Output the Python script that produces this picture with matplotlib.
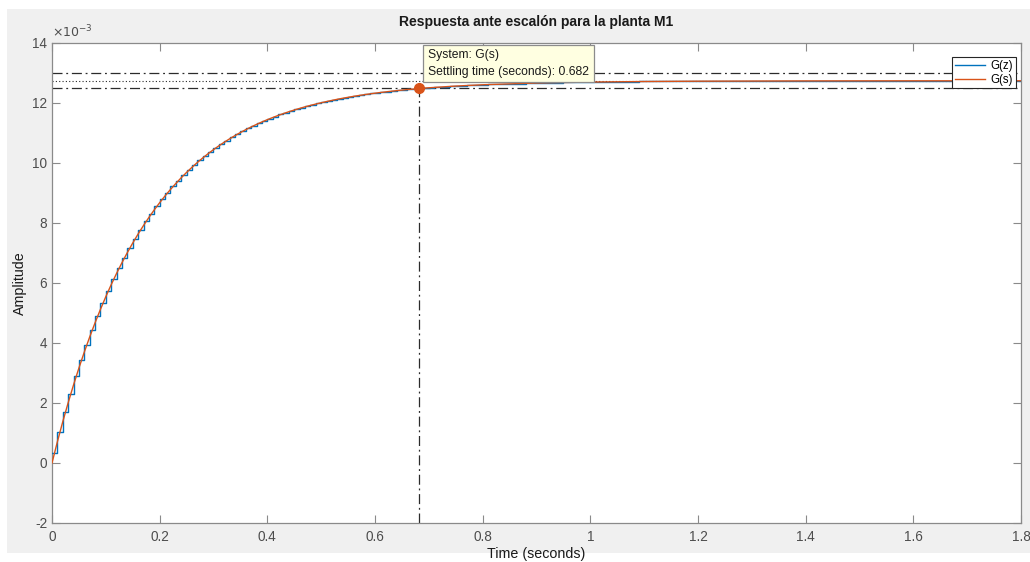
import numpy as np
import matplotlib
matplotlib.use('Agg')
import matplotlib.pyplot as plt
from matplotlib.patches import Rectangle

plt.rcParams['font.family'] = ['Liberation Sans', 'DejaVu Sans']
plt.rcParams['axes.unicode_minus'] = False

# Datos (amplitud en unidades de 1e-3)
Ts = 0.01
gz_vals = [
    0.33, 1.04, 1.69, 2.31, 2.89, 3.43, 3.95, 4.44, 4.90, 5.33,
    5.75, 6.13, 6.50, 6.85, 7.17, 7.48, 7.78, 8.05, 8.31, 8.56,
    8.79, 9.01, 9.22, 9.41, 9.60, 9.77, 9.94, 10.09, 10.24, 10.38,
    10.51, 10.63, 10.75, 10.86, 10.97, 11.06, 11.16, 11.25, 11.33, 11.41,
    11.48, 11.55, 11.62, 11.68, 11.74, 11.79, 11.85, 11.90, 11.94, 11.99,
    12.03, 12.07, 12.11, 12.14, 12.17, 12.21, 12.24, 12.26, 12.29, 12.32,
    12.34, 12.36, 12.38, 12.40, 12.42, 12.44, 12.46, 12.47, 12.49, 12.50,
    12.51, 12.53, 12.54, 12.55, 12.56, 12.57, 12.58, 12.59, 12.60, 12.61,
    12.61, 12.62, 12.63, 12.63, 12.64, 12.64, 12.65, 12.65, 12.66, 12.66,
    12.67, 12.67, 12.68, 12.68, 12.68, 12.69, 12.69, 12.69, 12.69, 12.70,
    12.70, 12.70, 12.70, 12.71, 12.71, 12.71, 12.71, 12.71, 12.71, 12.72,
    12.72, 12.72, 12.72, 12.72, 12.72, 12.72, 12.72, 12.72, 12.72, 12.72,
    12.72, 12.72, 12.73, 12.73, 12.73, 12.73, 12.73, 12.73, 12.73, 12.73,
    12.73, 12.73, 12.73, 12.73, 12.73, 12.73, 12.73, 12.73, 12.73, 12.73,
    12.73, 12.73, 12.73, 12.73, 12.73, 12.73, 12.73, 12.73, 12.73, 12.73,
    12.74, 12.74, 12.74, 12.74, 12.74, 12.74, 12.74, 12.74, 12.74, 12.74,
    12.74, 12.74, 12.74, 12.74, 12.74, 12.74, 12.74, 12.74, 12.74, 12.74,
    12.74, 12.74, 12.74, 12.74, 12.74, 12.74, 12.74, 12.74, 12.74, 12.74,
    12.74,
]

gs_t = [round(0.01 * i, 2) for i in range(71)] + [0.75, 0.8, 0.9, 1.0, 1.1, 1.2, 1.4, 1.6, 1.8]
gs_vals = [
    0.0, 0.708, 1.376, 2.007, 2.603, 3.166, 3.698, 4.200, 4.674, 5.122,
    5.545, 5.945, 6.322, 6.679, 7.015, 7.333, 7.634, 7.917, 8.185, 8.438,
    8.677, 8.903, 9.116, 9.317, 9.507, 9.687, 9.856, 10.017, 10.168, 10.311,
    10.445, 10.573, 10.693, 10.807, 10.914, 11.016, 11.112, 11.202, 11.287, 11.368,
    11.444, 11.516, 11.584, 11.648, 11.709, 11.766, 11.820, 11.872, 11.920, 11.965,
    12.008, 12.049, 12.087, 12.124, 12.158, 12.190, 12.221, 12.250, 12.277, 12.303,
    12.327, 12.350, 12.371, 12.392, 12.411, 12.430, 12.447, 12.463, 12.478, 12.493,
    12.507,
    12.565, 12.608, 12.666, 12.698, 12.716, 12.727, 12.736, 12.739, 12.740,
]

valor_final = 12.74
banda_sup = 12.99
banda_inf = 12.485
t_establecimiento = 0.682
y_establecimiento = 12.485

x_ticks = [0, 0.2, 0.4, 0.6, 0.8, 1, 1.2, 1.4, 1.6, 1.8]
x_labels = ['0', '0.2', '0.4', '0.6', '0.8', '1', '1.2', '1.4', '1.6', '1.8']
y_ticks = [-2, 0, 2, 4, 6, 8, 10, 12, 14]

azul = '#0072BD'
naranja = '#D95319'
gris_ejes = '#8a8a8a'
gris_texto = '#4d4d4d'

fig = plt.figure(figsize=(10.3, 5.62), dpi=100)
fig.patch.set_facecolor('white')
fig.add_artist(Rectangle((7 / 1030, 9 / 562), 1 - 7 / 1030, (553 - 9) / 562,
                         transform=fig.transFigure, facecolor='#f0f0f0',
                         edgecolor='none', zorder=-10))

ax = fig.add_axes([52 / 1030, (562 - 523) / 562, (1021 - 52) / 1030, (523 - 43) / 562])
ax.set_facecolor('white')

# Lineas de la caracteristica de establecimiento
estilo_dd = (0, (8, 3, 1.5, 3))
ax.axhline(banda_sup, color='#2b2b2b', lw=0.9, ls=estilo_dd, zorder=1)
ax.axhline(banda_inf, color='#2b2b2b', lw=0.9, ls=estilo_dd, zorder=1)
ax.axhline(valor_final, color='#2b2b2b', lw=0.8, ls=(0, (1, 2)), zorder=1)
ax.plot([t_establecimiento, t_establecimiento], [-2, y_establecimiento],
        color='#2b2b2b', lw=0.9, ls=estilo_dd, zorder=1)

t_z = np.arange(len(gz_vals)) * Ts
ax.plot(t_z, gz_vals, drawstyle='steps-post', color=azul, lw=1.0, label='G(z)', zorder=3)
ax.plot(gs_t, gs_vals, color=naranja, lw=1.0, label='G(s)', zorder=4)

ax.plot([t_establecimiento], [y_establecimiento], 'o', color=naranja, ms=7, zorder=5)

ax.text(0.6985, 13.32, 'System: G(s)\nSettling time (seconds): 0.682',
        fontsize=8.7, color='#1a1a1a', va='center', ha='left', linespacing=1.5,
        bbox=dict(boxstyle='square,pad=0.38', fc='#ffffe1', ec='#8c8c8c', lw=0.9),
        zorder=6)

ax.set_xlim(0, 1.8)
ax.set_ylim(-2, 14)
ax.set_xticks(x_ticks)
ax.set_xticklabels(x_labels)
ax.set_yticks(y_ticks)
ax.tick_params(direction='in', length=6, width=0.8, color=gris_ejes,
               labelcolor=gris_texto, labelsize=9.8, top=True, right=True)
ax.tick_params(axis='x', pad=5)
for s in ax.spines.values():
    s.set_color(gris_ejes)
    s.set_linewidth(0.9)

ax.text(0.0, 1.006, r'$\times 10^{-3}$', transform=ax.transAxes, fontsize=9,
        color=gris_texto, ha='left', va='bottom')

ax.set_title('Respuesta ante escalón para la planta M1', fontsize=10,
             fontweight='bold', color='#1a1a1a', pad=12)
ax.set_xlabel('Time (seconds)', fontsize=10.3, color='#1a1a1a', labelpad=2)
ax.set_ylabel('Amplitude', fontsize=10.3, color='#1a1a1a', labelpad=4)

leg = ax.legend(loc='upper right', fontsize=8.3, fancybox=False, framealpha=1,
                edgecolor='#262626', handlelength=2.6, borderpad=0.25,
                labelspacing=0.15, handletextpad=0.5, borderaxespad=0,
                bbox_to_anchor=((1016 - 52) / 969, (523 - 57) / 480))
leg.get_frame().set_linewidth(0.8)
leg.set_zorder(7)

fig.savefig('out.png', dpi=100, facecolor=fig.get_facecolor())
